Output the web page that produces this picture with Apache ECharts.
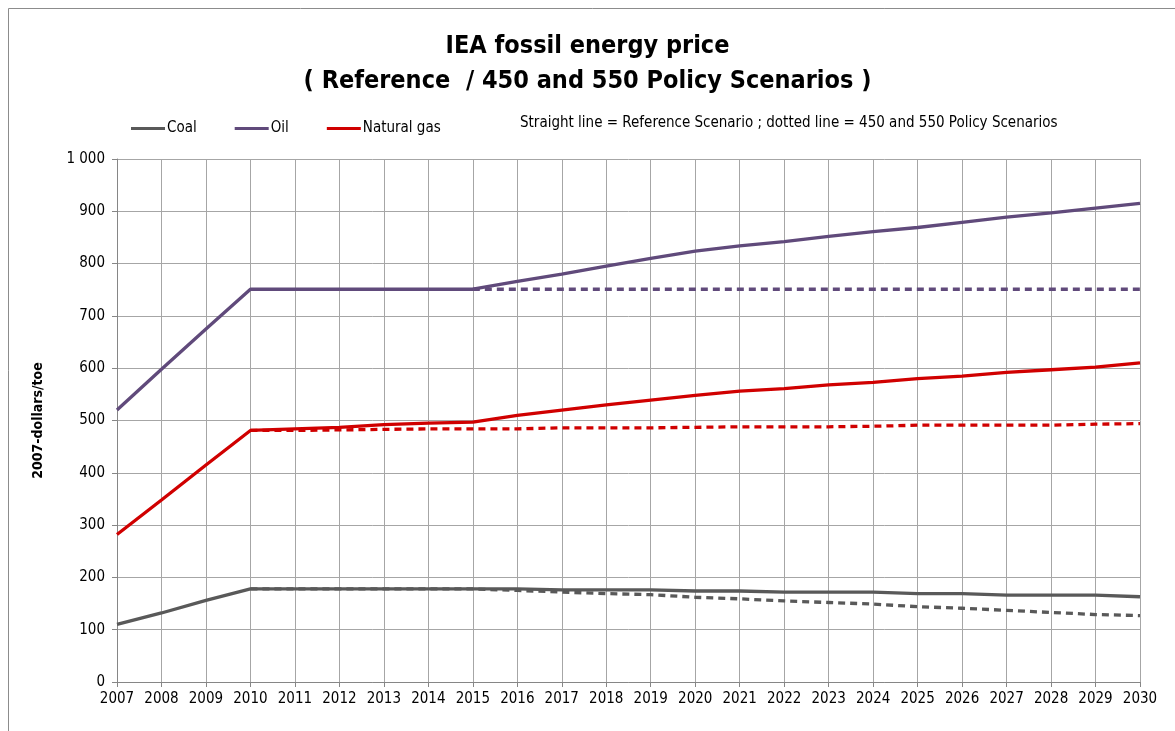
<!doctype html>
<html>
	<head>
		<meta charset="utf-8">
		<title>IEA fossil energy price</title>
		<style>
			body { margin: 0; background: #fff; }
			#container { width: 1175px; height: 731px; }
		</style>
	</head>
	<body>
		<div id="container"></div>

		<script src="https://cdn.jsdelivr.net/npm/echarts@6/dist/echarts.min.js"></script>

		<script>
			// years and prices (2007-dollars/toe)
			var years = ['2007','2008','2009','2010','2011','2012','2013','2014','2015','2016','2017','2018',
				'2019','2020','2021','2022','2023','2024','2025','2026','2027','2028','2029','2030'];

			var coalRef = [110,132,156,178,178,178,178,178,178,178,176,176,176,174,174,172,172,172,169,169,166,166,166,163];
			var coalPolicy = [null,null,null,178,178,178,178,178,178,175,172,169,167,162,159,155,152,149,144,141,137,133,129,127];

			var oilRef = [520,598,675,751,751,751,751,751,751,766,780,795,810,824,834,842,852,861,869,879,889,897,906,915];
			var oilPolicy = [null,null,null,null,null,null,null,null,751,751,751,751,751,751,751,751,751,751,751,751,751,751,751,751];

			var gasRef = [282,348,415,481,484,487,492,495,497,510,520,530,539,548,556,561,568,573,580,585,592,597,602,610];
			var gasPolicy = [null,null,null,481,481,482,483,484,484,484,486,486,486,487,488,488,488,489,491,491,491,491,493,494];

			var yTicks = ['0','100','200','300','400','500','600','700','800','900','1 000'];

			var fontFam = '"Liberation Sans Narrow", "DejaVu Sans Condensed", "Liberation Sans", sans-serif';
			var cCoal = '#595959', cOil = '#604a7b', cGas = '#d00000';

			function line(name, data, color, dashed) {
				return {
					name: name,
					type: 'line',
					data: data,
					showSymbol: false,
					symbol: 'none',
					connectNulls: false,
					z: dashed ? 3 : 2,
					lineStyle: { color: color, width: 3.3, type: dashed ? [7, 5] : 'solid' },
					itemStyle: { color: color },
					animation: false
				};
			}

			var chart = echarts.init(document.getElementById('container'));

			var opts = {
				backgroundColor: '#fff',
				animation: false,
				title: {
					text: 'IEA fossil energy price\n( Reference  / 450 and 550 Policy Scenarios )',
					left: 'center',
					top: 24,
					textStyle: { fontFamily: fontFam, fontSize: 25, fontWeight: 'bold', color: '#000', lineHeight: 35 }
				},
				legend: {
					left: 126,
					top: 116,
					itemWidth: 34,
					itemHeight: 3,
					itemGap: 38,
					icon: 'rect',
					textStyle: { fontFamily: fontFam, fontSize: 15, color: '#000', padding: [0, 0, 0, -3] },
					data: ['Coal', 'Oil', 'Natural gas']
				},
				graphic: [
					{
						type: 'rect',
						shape: { x: 8.5, y: 8.5, width: 1200, height: 800 },
						style: { fill: 'none', stroke: '#8c8c8c', lineWidth: 1 },
						silent: true
					},
					{
						type: 'text',
						left: 520,
						top: 116,
						style: {
							text: 'Straight line = Reference Scenario ; dotted line = 450 and 550 Policy Scenarios',
							fontFamily: fontFam, fontSize: 15, fill: '#000'
						}
					}
				],
				grid: { left: 117, right: 35, top: 159, bottom: 49 },
				xAxis: {
					type: 'category',
					data: years,
					boundaryGap: false,
					axisLine: { lineStyle: { color: '#868686', width: 1 } },
					axisTick: { show: true, alignWithLabel: true, length: 5, lineStyle: { color: '#868686' } },
					axisLabel: { fontFamily: fontFam, fontSize: 15, color: '#000', margin: 10, interval: 0 },
					splitLine: { show: true, lineStyle: { color: '#a6a6a6', width: 1 } }
				},
				yAxis: {
					type: 'value',
					min: 0,
					max: 1000,
					interval: 100,
					name: '2007-dollars/toe',
					nameLocation: 'middle',
					nameGap: 72,
					nameTextStyle: { fontFamily: fontFam, fontSize: 14, fontWeight: 'bold', color: '#000' },
					axisLine: { show: true, lineStyle: { color: '#868686', width: 1 } },
					axisTick: { show: true, length: 5, lineStyle: { color: '#868686' } },
					axisLabel: {
						fontFamily: fontFam, fontSize: 15, color: '#000', margin: 12,
						formatter: function (v) { return yTicks[Math.round(v / 100)]; }
					},
					splitLine: { show: true, lineStyle: { color: '#a6a6a6', width: 1 } }
				},
				series: [
					line('Coal', coalRef, cCoal, false),
					line('Oil', oilRef, cOil, false),
					line('Natural gas', gasRef, cGas, false),
					line('Coal policy', coalPolicy, cCoal, true),
					line('Oil policy', oilPolicy, cOil, true),
					line('Gas policy', gasPolicy, cGas, true)
				]
			};

			chart.setOption(opts, true);
		</script>
	</body>
</html>
